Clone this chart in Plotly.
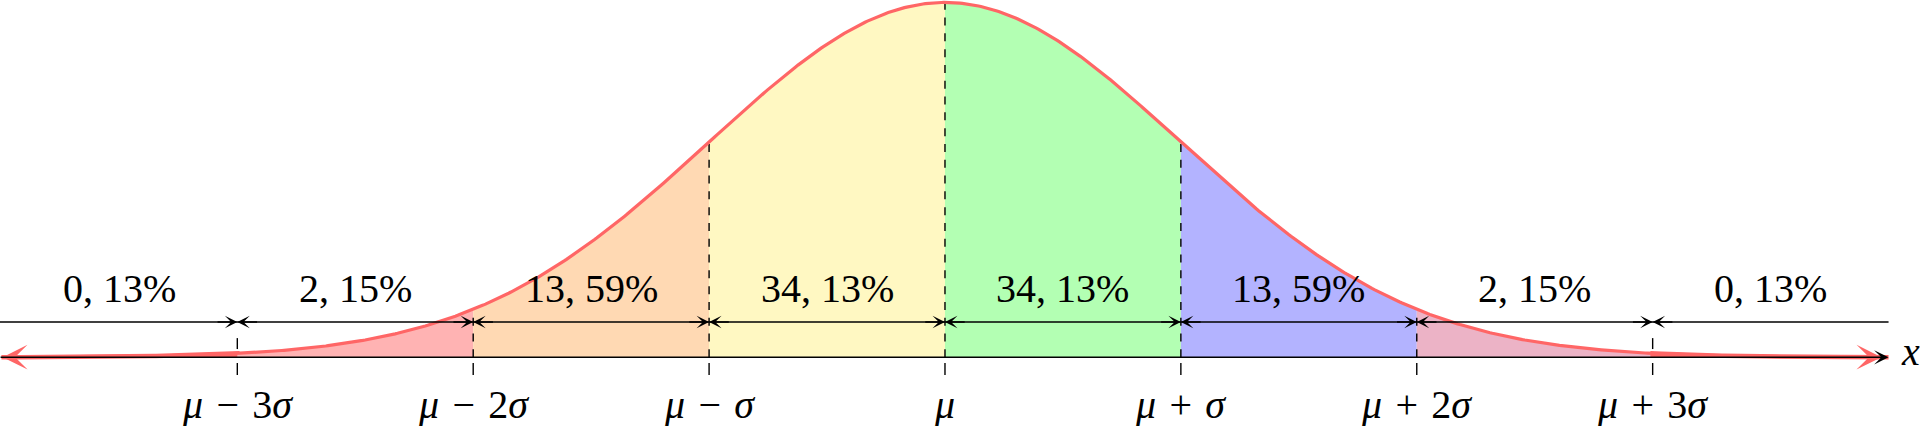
import numpy as np
import plotly.graph_objects as go

# ---------------- data ----------------
mu = 0.0
sigma = 1.0
bounds = [-4, -3, -2, -1, 0, 1, 2, 3, 4]          # interval edges, in units of sigma
tick_k = [-3, -2, -1, 0, 1, 2, 3]                  # marked points, in units of sigma
SP = "\u2004"
tick_labels = [f"<i>μ</i>{SP}−{SP}3<i>σ</i>", f"<i>μ</i>{SP}−{SP}2<i>σ</i>", f"<i>μ</i>{SP}−{SP}<i>σ</i>",
               "<i>μ</i>",
               f"<i>μ</i>{SP}+{SP}<i>σ</i>", f"<i>μ</i>{SP}+{SP}2<i>σ</i>", f"<i>μ</i>{SP}+{SP}3<i>σ</i>"]
pct_labels = ["0, 13%", "2, 15%", "13, 59%", "34, 13%", "34, 13%", "13, 59%", "2, 15%", "0, 13%"]

# ---------------- style ----------------
fill_colors = ["#FF6666", "#FFB3B3", "#FFD9B3", "#FFF8C2", "#B3FFB3", "#B3B3FF", "#ECB3C6", "#FF6666"]
curve_color = "#FF6666"
FONT = "Liberation Serif"
FS = 40
ROW_Y = 0.0397        # height of the arrow row
PCT_Y = 0.0775        # height of the percentage labels
TICKLAB_Y = -0.0525   # height of the tick labels


def pdf(x):
    return np.exp(-0.5 * ((x - mu) / sigma) ** 2) / (sigma * np.sqrt(2 * np.pi))


fig = go.Figure()

# coloured areas under the curve
for i in range(len(bounds) - 1):
    a = mu + bounds[i] * sigma
    b = mu + bounds[i + 1] * sigma
    xs = np.linspace(a, b, 120)
    px = np.concatenate([[a], xs, [b]])
    py = np.concatenate([[0], pdf(xs), [0]])
    tail = i == 0 or i == len(bounds) - 2
    fig.add_trace(go.Scatter(x=px, y=py, mode="lines", fill="toself",
                             fillcolor=fill_colors[i],
                             line=dict(color=fill_colors[i] if tail else "rgba(0,0,0,0)",
                                       width=4.5 if tail else 0),
                             hoverinfo="skip"))

# dashed verticals from the axis up to the curve
for k in tick_k:
    xk = mu + k * sigma
    if abs(k) < 3:
        fig.add_trace(go.Scatter(x=[xk, xk], y=[0, pdf(xk)], mode="lines",
                                 line=dict(color="black", width=1.4, dash="8px,7.8px"),
                                 hoverinfo="skip"))
    else:
        fig.add_trace(go.Scatter(x=[xk, xk], y=[0.0093, 0.0216], mode="lines",
                                 line=dict(color="black", width=1.4), hoverinfo="skip"))
    # tick below the axis
    fig.add_trace(go.Scatter(x=[xk, xk], y=[-0.0064, -0.0199], mode="lines",
                             line=dict(color="black", width=1.4), hoverinfo="skip"))

# the red density curve
xc = np.linspace(mu + bounds[0] * sigma + 0.07, mu + bounds[-1] * sigma - 0.09, 800)
fig.add_trace(go.Scatter(x=xc, y=pdf(xc), mode="lines",
                         line=dict(color=curve_color, width=3.2), hoverinfo="skip"))

# black arrow row line
x_lo = mu + bounds[0] * sigma
x_hi = mu + bounds[-1] * sigma
fig.add_trace(go.Scatter(x=[x_lo - 0.01, x_hi], y=[ROW_Y, ROW_Y], mode="lines",
                         line=dict(color="black", width=1.3), hoverinfo="skip"))

annotations = []
# red arrowheads at the ends of the curve
for tip, tail in [(x_lo + 0.005, x_lo + 0.15), (x_hi - 0.03, x_hi - 0.18)]:
    annotations.append(dict(x=tip, y=float(pdf(tip)), ax=tail, ay=float(pdf(tail)),
                            xref="x", yref="y", axref="x", ayref="y", text="",
                            showarrow=True, arrowhead=3, arrowsize=1.3, arrowwidth=3.2,
                            arrowcolor=curve_color, standoff=0, font=dict(size=1)))
# black axis line drawn above everything
annotations.append(dict(x=x_hi, y=0, ax=x_lo - 0.01, ay=0, xref="x", yref="y", axref="x", ayref="y",
                        text="", showarrow=True, arrowhead=3, arrowsize=1.6, arrowwidth=1.5,
                        arrowcolor="black", standoff=0, font=dict(size=1)))
# arrow heads on the arrow row
for k in tick_k:
    xk = mu + k * sigma
    for d in (-1, 1):
        annotations.append(dict(x=xk, y=ROW_Y, ax=xk + d * 0.09, ay=ROW_Y,
                                xref="x", yref="y", axref="x", ayref="y", text="",
                                showarrow=True, arrowhead=3, arrowsize=1.6, arrowwidth=1.3,
                                arrowcolor="black", standoff=0, font=dict(size=1)))

# percentage labels
for i, lab in enumerate(pct_labels):
    xm = mu + 0.5 * (bounds[i] + bounds[i + 1]) * sigma
    annotations.append(dict(x=xm, y=PCT_Y, xref="x", yref="y", text=lab, showarrow=False,
                            xanchor="center", yanchor="middle",
                            font=dict(family=FONT, size=FS, color="black")))
# tick labels
for k, lab in zip(tick_k, tick_labels):
    annotations.append(dict(x=mu + k * sigma, y=TICKLAB_Y, xref="x", yref="y", text=lab,
                            showarrow=False, xanchor="center", yanchor="middle",
                            font=dict(family=FONT, size=FS, color="black")))
# axis name
annotations.append(dict(x=x_hi + 0.095, y=0.006, xref="x", yref="y", text="<i>x</i>",
                        showarrow=False, xanchor="center", yanchor="middle",
                        font=dict(family=FONT, size=FS, color="black")))

fig.update_layout(
    width=1927, height=426, autosize=False,
    margin=dict(l=0, r=0, t=0, b=0, pad=0),
    paper_bgcolor="white", plot_bgcolor="white",
    showlegend=False,
    xaxis=dict(range=[-4.006, 4.163], visible=False, fixedrange=True),
    yaxis=dict(range=[-0.0772, 0.4017], visible=False, fixedrange=True),
    annotations=annotations,
)

fig.write_html("out.html", config={"displayModeBar": False, "staticPlot": True},
               post_script="document.body.style.margin='0px';document.body.style.overflow='hidden';")
